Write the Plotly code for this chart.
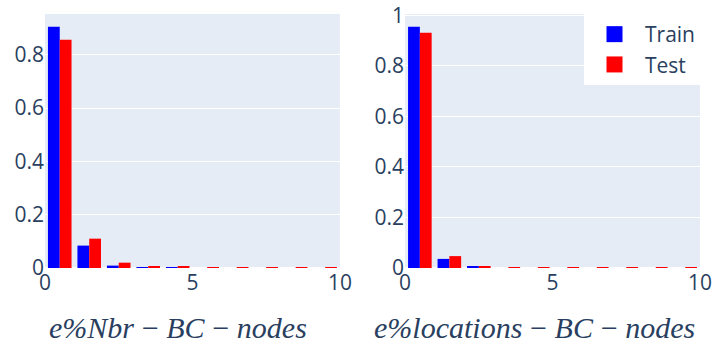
import plotly.graph_objects as go
from plotly.subplots import make_subplots

# bin centres (bins of width 1 from 0 to 10)
bins = [0.5, 1.5, 2.5, 3.5, 4.5, 5.5, 6.5, 7.5, 8.5, 9.5]

nbr_train = [0.905, 0.084, 0.009, 0.0008, 0.002, 0.0, 0.0, 0.0, 0.0, 0.0]
nbr_test = [0.856, 0.110, 0.020, 0.005, 0.005, 0.002, 0.002, 0.0006, 0.002, 0.0006]

loc_train = [0.955, 0.036, 0.005, 0.0, 0.0, 0.0, 0.0, 0.0, 0.0, 0.0]
loc_test = [0.931, 0.047, 0.007, 0.002, 0.002, 0.002, 0.0006, 0.0006, 0.002, 0.0006]

titles = ['e%Nbr\u2009−\u2009BC\u2009−\u2009nodes', 'e%locations\u2009−\u2009BC\u2009−\u2009nodes']
title_x = [0.203, 0.747]

COLORS = {'train': 'blue', 'test': 'red'}
TEXT = '#2a3f5f'

fig = make_subplots(rows=1, cols=2, horizontal_spacing=0.0996)

for col, (tr, te) in enumerate([(nbr_train, nbr_test), (loc_train, loc_test)], start=1):
    fig.add_trace(go.Bar(x=bins, y=tr, name='Train', marker_color=COLORS['train'],
                         marker_line_width=0, showlegend=False), row=1, col=col)
    fig.add_trace(go.Bar(x=bins, y=te, name='Test', marker_color=COLORS['test'],
                         marker_line_width=0, showlegend=False), row=1, col=col)
    fig.update_xaxes(range=[0, 10], dtick=5, showgrid=False, zeroline=False, automargin=False,
                     ticklabeloverflow='allow', tickfont=dict(size=21, color=TEXT), row=1, col=col)
    fig.update_yaxes(dtick=0.2, automargin=False, ticklabeloverflow='allow',
                     tickfont=dict(size=21, color=TEXT), row=1, col=col)

# legend-only entries with bigger square swatches
for name, key in [('Train', 'train'), ('Test', 'test')]:
    fig.add_trace(go.Scatter(x=[None], y=[None], mode='markers', name=name,
                             marker=dict(symbol='square', size=16, color=COLORS[key])),
                  row=1, col=2)

for x, text in zip(title_x, titles):
    fig.add_annotation(text=f'<i>{text}</i>', xref='paper', yref='paper',
                       x=x, y=-0.236, xanchor='center', yanchor='middle', showarrow=False,
                       font=dict(family='Liberation Serif, serif', size=30, color=TEXT))

fig.update_layout(
    width=713, height=347,
    barmode='group', bargap=0.2, bargroupgap=0,
    paper_bgcolor='white', plot_bgcolor='#E5ECF6',
    margin=dict(l=45, r=13, t=14, b=79),
    font=dict(family='Open Sans, sans-serif', color=TEXT),
    legend=dict(x=1, y=1, xanchor='right', yanchor='top', bgcolor='white',
                itemwidth=51, tracegroupgap=0, itemsizing='trace',
                font=dict(size=21, color=TEXT)),
)

# drop the default 8px page margin so the figure fills the window exactly
fig.write_html('out.html', config={'displayModeBar': False},
               post_script="document.body.style.margin='0';")
